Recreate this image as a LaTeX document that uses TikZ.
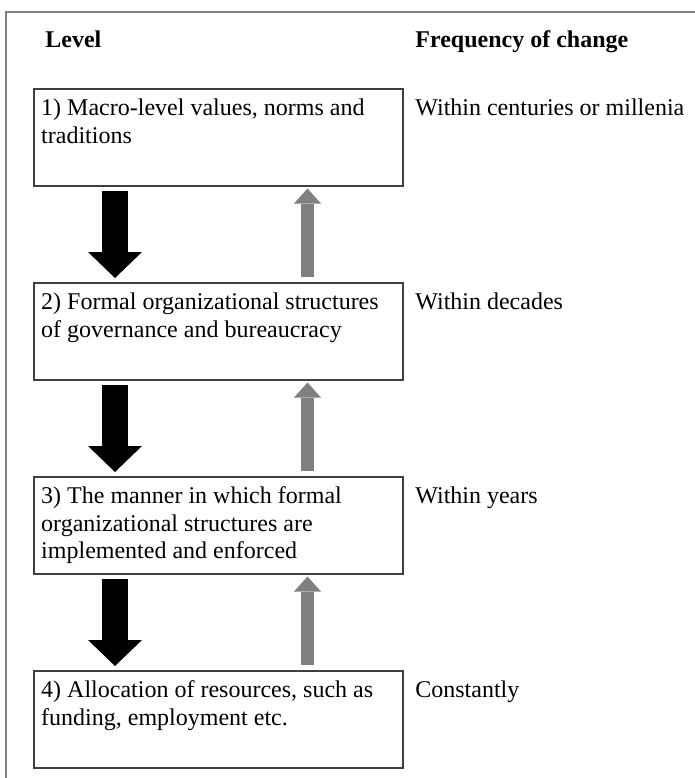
\documentclass[tikz,border=0pt]{standalone}
\usepackage{fontspec}
\setmainfont{Liberation Serif}
\usetikzlibrary{arrows.meta}

\newcommand{\lvltext}[1]{\parbox[t][38.5pt][t]{177pt}{#1}}

\begin{document}
\begin{tikzpicture}[x=0.5pt,y=-0.5pt,font=\fontsize{12}{13.8}\selectfont,line cap=butt,
  lvlbox/.style={draw=black!75,line width=0.75pt,anchor=north west,inner xsep=3.5pt,inner ysep=5pt,minimum width=184.5pt,minimum height=48.5pt},
  hdr/.style={anchor=base west,inner sep=0pt,font=\fontsize{12}{13.8}\selectfont\bfseries},
  freq/.style={anchor=base west,inner sep=0pt},
  downarr/.style={line width=13pt,-{Triangle[length=13pt,width=27pt,line width=0pt]}},
  uparr/.style={gray,line width=6.5pt,-{Triangle[length=7.5pt,width=13.5pt,line width=0pt]}}]
\useasboundingbox (0,0) rectangle (695,778);
% frame
\draw[gray,line width=1pt] (6,778) -- (6,12) -- (695,12);
% column heads
\node[hdr] (lvl) at (45,47) {Level};
\node[hdr] (frq) at (415,47) {Frequency of change};
% levels
\node[lvlbox] (b1) at (33,88) {\lvltext{1) Macro-level values, norms and\\traditions}};
\node[lvlbox] (b2) at (33,282) {\lvltext{2) Formal organizational structures\\of governance and bureaucracy}};
\node[lvlbox] (b3) at (33,476) {\lvltext{3) The manner in which formal\\organizational structures are\\implemented and enforced}};
\node[lvlbox] (b4) at (33,670) {\lvltext{4) Allocation of resources, such as\\funding, employment etc.}};
% frequencies
\node[freq] (f1) at (415,115) {Within centuries or millenia};
\node[freq] (f2) at (415,309) {Within decades};
\node[freq] (f3) at (415,503) {Within years};
\node[freq] (f4) at (415,697) {Constantly};
% downward influence
\draw[downarr] ([xshift=41pt,yshift=-2pt]b1.south west) -- ([xshift=41pt,yshift=2pt]b2.north west);
\draw[downarr] ([xshift=41pt,yshift=-2pt]b2.south west) -- ([xshift=41pt,yshift=2pt]b3.north west);
\draw[downarr] ([xshift=41pt,yshift=-2pt]b3.south west) -- ([xshift=41pt,yshift=2pt]b4.north west);
% upward feedback
\draw[uparr] ([xshift=137.25pt,yshift=2.5pt]b2.north west) -- ([xshift=137.25pt,yshift=-1pt]b1.south west);
\draw[uparr] ([xshift=137.25pt,yshift=2.5pt]b3.north west) -- ([xshift=137.25pt,yshift=-1pt]b2.south west);
\draw[uparr] ([xshift=137.25pt,yshift=2.5pt]b4.north west) -- ([xshift=137.25pt,yshift=-1pt]b3.south west);
\end{tikzpicture}
\end{document}
